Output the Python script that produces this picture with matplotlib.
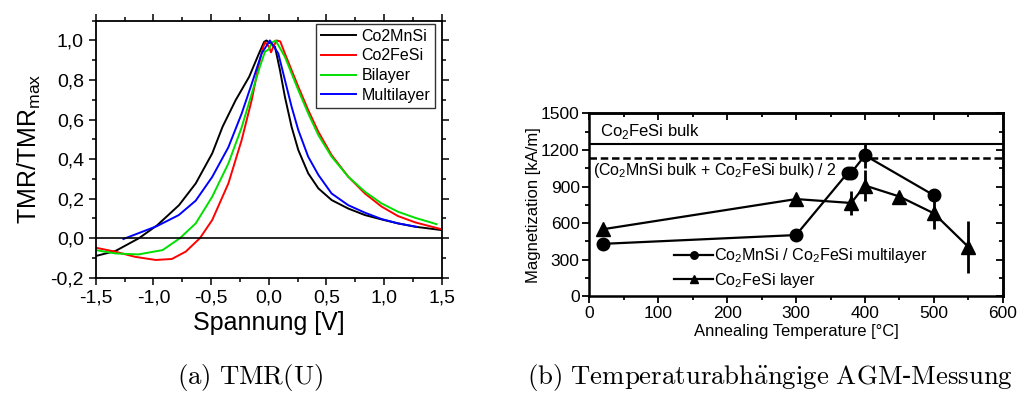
import matplotlib.pyplot as plt
from matplotlib.ticker import MultipleLocator, FuncFormatter

plt.rcParams['font.family'] = ['Liberation Sans', 'DejaVu Sans']

# (a) TMR(U), normalised TMR vs bias voltage
mnsi_u = [-1.5, -1.33, -1.125, -0.966, -0.778, -0.633, -0.49, -0.40, -0.287, -0.17, -0.085, -0.04, -0.02,
          0.054, 0.097, 0.14, 0.198, 0.256, 0.342, 0.43, 0.545, 0.689, 0.834, 0.978, 1.12, 1.27, 1.5]
mnsi_tmr = [-0.09, -0.065, 0.0, 0.066, 0.167, 0.277, 0.429, 0.564, 0.698, 0.816, 0.934, 0.993, 1.0,
            0.968, 0.85, 0.715, 0.563, 0.446, 0.328, 0.252, 0.193, 0.15, 0.117, 0.095, 0.075, 0.058, 0.041]

fesi_u = [-1.5, -1.33, -1.16, -0.98, -0.84, -0.72, -0.597, -0.49, -0.35, -0.235, -0.148, -0.09, -0.048, -0.03,
          0.0, 0.02, 0.04, 0.07, 0.1, 0.14, 0.198, 0.256, 0.342, 0.43, 0.545, 0.689, 0.834, 0.978, 1.12, 1.27, 1.5]
fesi_tmr = [-0.048, -0.068, -0.094, -0.11, -0.105, -0.068, 0.0, 0.092, 0.277, 0.496, 0.698, 0.867, 0.968, 0.99,
            0.97, 0.94, 0.97, 1.0, 0.995, 0.934, 0.85, 0.766, 0.648, 0.538, 0.42, 0.311, 0.226, 0.16, 0.112, 0.08, 0.045]

bi_u = [-1.5, -1.33, -1.13, -0.92, -0.77, -0.633, -0.49, -0.35, -0.235, -0.148, -0.077, -0.033, 0.0, 0.03,
        0.06, 0.14, 0.198, 0.256, 0.342, 0.43, 0.545, 0.689, 0.834, 0.978, 1.12, 1.27, 1.455]
bi_tmr = [-0.06, -0.077, -0.082, -0.06, 0.0, 0.075, 0.21, 0.378, 0.56, 0.73, 0.867, 0.943, 0.955, 0.99,
          1.0, 0.917, 0.833, 0.749, 0.631, 0.521, 0.412, 0.311, 0.235, 0.176, 0.134, 0.103, 0.071]

multi_u = [-1.26, -0.97, -0.78, -0.633, -0.49, -0.35, -0.235, -0.148, -0.062, 0.01, 0.083, 0.14, 0.198,
           0.256, 0.342, 0.43, 0.545, 0.689, 0.834, 0.978, 1.12, 1.28]
multi_tmr = [-0.004, 0.061, 0.117, 0.19, 0.31, 0.46, 0.63, 0.78, 0.934, 1.0, 0.934, 0.8, 0.665,
             0.547, 0.412, 0.32, 0.226, 0.167, 0.129, 0.097, 0.075, 0.058]

# (b) magnetization vs annealing temperature
ml_temp = [20, 300, 375, 380, 400, 500]
ml_mag = [430, 502, 1012, 1012, 1155, 828]
ml_err = [0, 0, 0, 0, 100, 0]

layer_temp = [20, 300, 380, 400, 450, 500, 550]
layer_mag = [550, 797, 765, 908, 818, 680, 405]
layer_err = [20, 30, 95, 130, 30, 130, 210]

bulk_fesi = 1245
bulk_mean = 1135

fig = plt.figure(figsize=(10.18, 3.94), dpi=100)

# ---- panel (a)
ax1 = fig.add_axes([0.094, 0.295, 0.340, 0.6525])
ax1.plot(mnsi_u, mnsi_tmr, color='black', lw=1.4, label='Co2MnSi')
ax1.plot(fesi_u, fesi_tmr, color='#ff0000', lw=1.4, label='Co2FeSi')
ax1.plot(bi_u, bi_tmr, color='#00e000', lw=1.4, label='Bilayer')
ax1.plot(multi_u, multi_tmr, color='#0000ff', lw=1.4, label='Multilayer')
ax1.axhline(0, color='black', lw=1.2)

ax1.set_xlim(-1.5, 1.5)
ax1.set_ylim(-0.2, 1.1)
ax1.xaxis.set_major_locator(MultipleLocator(0.5))
ax1.xaxis.set_minor_locator(MultipleLocator(0.25))
ax1.yaxis.set_major_locator(MultipleLocator(0.2))
ax1.yaxis.set_minor_locator(MultipleLocator(0.1))
comma = FuncFormatter(lambda v, p: f"{round(v, 2) + 0.0:.1f}".replace('.', ','))
ax1.xaxis.set_major_formatter(comma)
ax1.yaxis.set_major_formatter(comma)
ax1.tick_params(which='both', direction='out', top=True, right=True, labelsize=14, width=1.1)
ax1.tick_params(which='major', length=5)
ax1.tick_params(which='minor', length=3)
for s in ax1.spines.values():
    s.set_linewidth(1.3)
ax1.set_xlabel('Spannung [V]', fontsize=18, labelpad=3)
ax1.set_ylabel(r'TMR/TMR$_\mathregular{max}$', fontsize=18, labelpad=5)
leg = ax1.legend(loc='upper right', bbox_to_anchor=(0.98, 0.988), fontsize=11.5, fancybox=False,
                 edgecolor='#333333', framealpha=1, handlelength=2.2, handletextpad=0.35,
                 borderpad=0.3, labelspacing=0.3, borderaxespad=0)
leg.get_frame().set_linewidth(1.0)

# ---- panel (b)
ax2 = fig.add_axes([0.579, 0.248, 0.406, 0.4644])
ax2.axhline(bulk_fesi, color='black', lw=1.5)
ax2.axhline(bulk_mean, color='black', lw=1.8, ls=(0, (3, 1.5)))
ax2.errorbar(ml_temp, ml_mag, yerr=ml_err, fmt='none', ecolor='black', elinewidth=2)
ax2.errorbar(layer_temp, layer_mag, yerr=layer_err, fmt='none', ecolor='black', elinewidth=2)
ax2.plot(ml_temp, ml_mag, color='black', lw=1.6, marker='o', ms=9,
         label=r'Co$_\mathregular{2}$MnSi / Co$_\mathregular{2}$FeSi multilayer')
ax2.plot(layer_temp, layer_mag, color='black', lw=1.6, marker='^', ms=10,
         label=r'Co$_\mathregular{2}$FeSi layer')
ax2.text(15, 1355, r'Co$_\mathregular{2}$FeSi bulk', fontsize=12, va='center')
ax2.text(5, 1030, r'(Co$_\mathregular{2}$MnSi bulk + Co$_\mathregular{2}$FeSi bulk) / 2', fontsize=11.5, va='center')

ax2.set_xlim(0, 600)
ax2.set_ylim(0, 1500)
ax2.xaxis.set_major_locator(MultipleLocator(100))
ax2.xaxis.set_minor_locator(MultipleLocator(50))
ax2.yaxis.set_major_locator(MultipleLocator(300))
ax2.yaxis.set_minor_locator(MultipleLocator(150))
ax2.tick_params(which='both', direction='out', labelsize=12.5, width=1.3, pad=2)
ax2.tick_params(which='major', length=5)
ax2.tick_params(which='minor', length=3)
for side in ['top', 'right']:
    sec = ax2.secondary_xaxis('top') if side == 'top' else ax2.secondary_yaxis('right')
    axis = sec.xaxis if side == 'top' else sec.yaxis
    axis.set_major_locator(MultipleLocator(100 if side == 'top' else 300))
    axis.set_minor_locator(MultipleLocator(50 if side == 'top' else 150))
    sec.tick_params(which='both', direction='in', labelleft=False, labelright=False,
                    labeltop=False, labelbottom=False, width=1.3)
    sec.tick_params(which='major', length=5)
    sec.tick_params(which='minor', length=3)
    sec.spines[side].set_linewidth(1.8)
for s in ax2.spines.values():
    s.set_linewidth(1.8)
ax2.set_xlabel('Annealing Temperature [°C]', fontsize=12, labelpad=2)
ax2.set_ylabel('Magnetization [kA/m]', fontsize=12, labelpad=0)
ax2.legend(loc='lower left', bbox_to_anchor=(0.17, -0.045), fontsize=11.6, frameon=False,
           markerscale=0.6, handlelength=2.4, handletextpad=0.05, labelspacing=0.35)

# captions
fig.text(0.2455, 0.025, r'$\mathrm{(a)\ TMR(U)}$', fontsize=19.3, ha='center', math_fontfamily='cm')
fig.text(0.756, 0.025, r'$\mathrm{(b)\ Temperaturabh\ddot{a}ngige\ AGM}$-$\mathrm{Messung}$', fontsize=19.3,
         ha='center', math_fontfamily='cm', family='DejaVu Serif')

fig.savefig('out.png', dpi=100)
